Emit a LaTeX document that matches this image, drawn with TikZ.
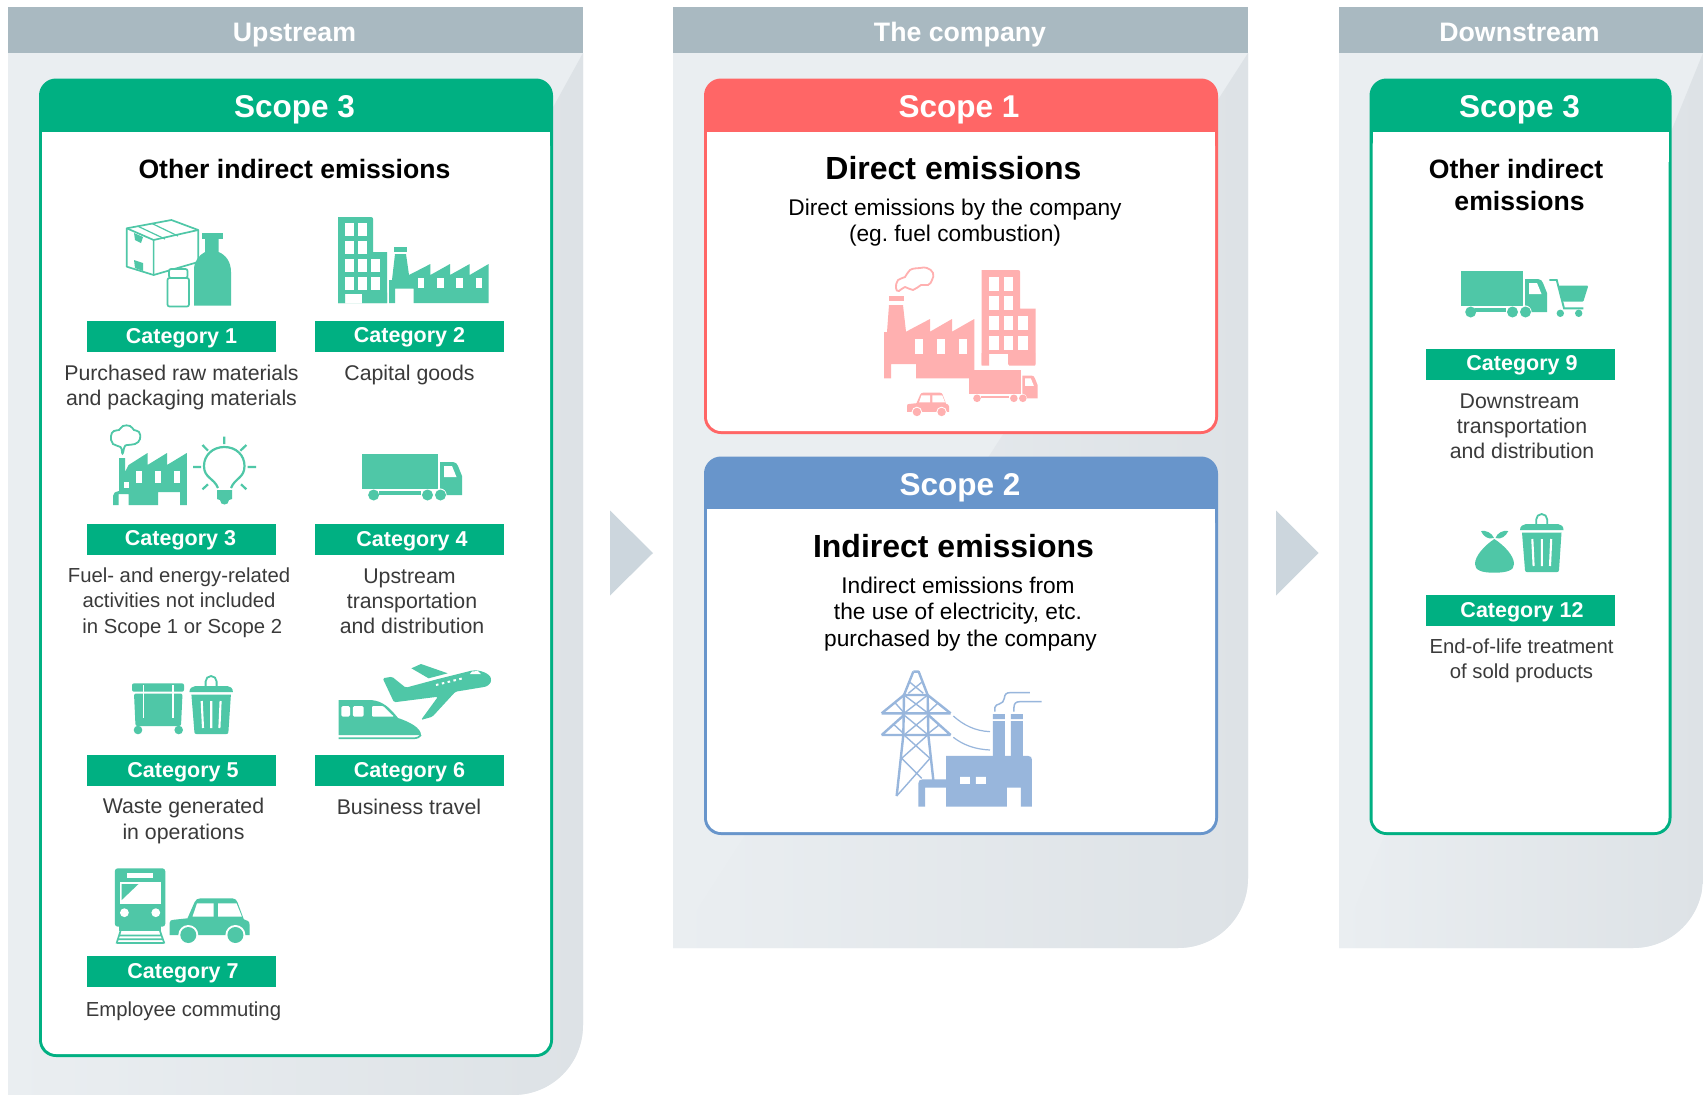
\documentclass[tikz,border=0pt]{standalone}
\usepackage{fontspec}
\setmainfont{Liberation Sans}
\frenchspacing
\definecolor{hdrgray}{HTML}{A9B9C1}
\definecolor{panellight}{HTML}{EAEEF1}
\definecolor{paneldark}{HTML}{DDE2E6}
\definecolor{chev}{HTML}{CCD6DD}
\definecolor{cgreen}{HTML}{00B082}
\definecolor{cred}{HTML}{FF6666}
\definecolor{cblue}{HTML}{6895CB}
\definecolor{igreen}{HTML}{4FC7A7}
\definecolor{ipink}{HTML}{FFB0B0}
\definecolor{iblue}{HTML}{98B6DC}
\definecolor{bodytext}{HTML}{3A3A3A}
\tikzset{
  hdrtext/.style={anchor=base,text=white,font=\fontsize{26.7}{30}\selectfont\bfseries,inner sep=0pt},
  scopetext/.style={anchor=base,text=white,font=\fontsize{31.5}{36}\selectfont\bfseries,inner sep=0pt},
  subtext/.style={anchor=base,text=black,font=\fontsize{26.6}{32}\selectfont\bfseries,inner sep=0pt},
  bigtext/.style={anchor=base,text=black,font=\fontsize{32}{36}\selectfont\bfseries,inner sep=0pt},
  leadtext/.style={text=black,font=\fontsize{22.7}{26.5}\selectfont,align=center,inner sep=0pt},
  cattext/.style={anchor=base,text=white,font=\fontsize{21.5}{25}\selectfont\bfseries,inner sep=0pt},
  desctext/.style={text=bodytext,font=\fontsize{21.3}{25.2}\selectfont,align=center,inner sep=0pt},
  desctight/.style={text=bodytext,font=\fontsize{20.3}{25.2}\selectfont,align=center,inner sep=0pt},
  descline/.style={anchor=base,text=bodytext,font=\fontsize{21.3}{25.2}\selectfont,inner sep=0pt},
  desclinetight/.style={anchor=base,text=bodytext,font=\fontsize{20.3}{25.2}\selectfont,inner sep=0pt}
}
\newcommand{\PanelBox}[4]{% x1 x2 ybot name
  \fill[panellight] (#1,53) -- (#2,53) -- (#2,{#3-70}) .. controls (#2,{#3-31}) and ({#2-31},#3) .. ({#2-70},#3) -- (#1,#3) -- cycle;
  \shade[left color=panellight,right color=paneldark] (#2,53) -- (#2,{#3-70}) .. controls (#2,{#3-31}) and ({#2-31},#3) .. ({#2-70},#3) -- (#1,#3) -- cycle;
  \fill[hdrgray] (#1,7) rectangle (#2,53);
}
\newcommand{\CardBox}[6]{% x1 y1 x2 y2 yh colour
  \fill[#6,rounded corners=17pt] (#1,#2) rectangle (#3,#4);
  \fill[white,rounded corners=14pt] ({#1+3},#5) rectangle ({#3-3},{#4-3});
  \fill[white] ({#1+3},#5) rectangle ({#3-3},{#5+30});
}
\newcommand{\CatBar}[5]{% name x1 y1 x2 y2
  \fill[cgreen] (#2,#3) rectangle (#4,#5);
}
\newcommand{\TruckIcon}[5]{% ox oy scale boxw colour
  \begin{scope}[shift={(#1,#2)},scale=#3]
    \fill[#5] (0,0) rectangle (#4,35);
    \fill[#5] ({#4+2},8) -- ({#4+15},8) .. controls ({#4+18},8) and ({#4+19},10) .. ({#4+20},12) -- ({#4+24},22) -- ({#4+24},41) -- ({#4+2},41) -- cycle;
    \fill[white] ({#4+6},12) -- ({#4+14},12) -- ({#4+18.5},23) -- ({#4+6},23) -- cycle;
    \fill[#5] ({0.23*#4},37) rectangle ({#4-17},41);
    \fill[white] ({#4+2},41) circle[radius=6.6];
    \fill[#5] ({0.14*#4+1},41) circle[radius=5.5];
    \fill[#5] ({#4-10.5},41) circle[radius=5.5];
    \fill[#5] ({#4+2.5},41) circle[radius=5.5];
  \end{scope}
}
\newcommand{\BuildingIcon}[4]{% ox oy scale colour
  \begin{scope}[shift={(#1,#2)},scale=#3]
    \fill[#4] (0,0) -- (33,0) .. controls (34.5,0) and (35,1) .. (35,2) -- (35,35) -- (49,35) -- (49,86) -- (0,86) -- cycle;
    \foreach \cx in {7,20}{\foreach \cy in {6,24,42,60}{\fill[white] (\cx,\cy) rectangle ++(8.7,12.7);}}
    \foreach \cy in {42,60}{\fill[white] (33.2,\cy) rectangle ++(8.7,12.7);}
    \fill[white] (7,76.5) rectangle (24,86);
  \end{scope}
}
\newcommand{\TrashIcon}[4]{% ox oy scale colour
  \begin{scope}[shift={(#1,#2)},scale=#3]
    \draw[#4,line width=1.8pt] (16.2,4) -- (16.2,-1.5) arc[start angle=180,end angle=360,radius=5.5] -- (27.2,4);
    \fill[#4] (0,9) .. controls (0,5) and (3,3.5) .. (6,3) -- (38,3) .. controls (41,3.5) and (43.5,5) .. (43.5,9) -- cycle;
    \fill[#4] (2,11.5) -- (41.5,11.5) -- (39,49) .. controls (39,50.5) and (38,51) .. (37,51) -- (7,51) .. controls (6,51) and (5,50.5) .. (5,49) -- cycle;
    \draw[white,line width=2.1pt] (12.3,18) -- (13.6,45) (21.8,18) -- (21.8,45) (31.2,18) -- (30,45);
  \end{scope}
}
\newcommand{\CarIcon}[4]{% ox oy scale colour
  \begin{scope}[shift={(#1,#2)},scale=#3]
    \fill[#4] (0,25) .. controls (0,22) and (2,21.5) .. (4,21.5) -- (18,20) -- (25,4) .. controls (26,1.5) and (28,0) .. (31,0) -- (63,0) .. controls (66,0) and (67,2) .. (68,4) -- (74.3,21) -- (78,22.5) .. controls (79.5,23) and (80,24) .. (80,26) -- (80,36.7) -- (0,36.7) -- cycle;
    \fill[white] (23,18.4) -- (27.5,5) -- (44,5) -- (44,18.4) -- cycle;
    \fill[white] (48.5,5) -- (67,5) -- (72.4,18.4) -- (48.5,18.4) -- cycle;
    \fill[white] (18.8,36.7) circle[radius=10];
    \fill[white] (65.9,36.7) circle[radius=10];
    \fill[#4] (18.8,36.7) circle[radius=8];
    \fill[#4] (65.9,36.7) circle[radius=8];
  \end{scope}
}
\begin{document}
\begin{tikzpicture}[x=1pt,y=-1pt]
\useasboundingbox (0,0) rectangle (1703,1095);
% panels
\PanelBox{8}{583}{1095}{up}
\PanelBox{673}{1248}{948}{co}
\PanelBox{1339}{1703}{948}{dn}
\node[hdrtext] (hup) at (294.5,41.7) {Upstream};
\node[hdrtext] (hco) at (960,41.7) {The company};
\node[hdrtext] (hdn) at (1519.5,41.7) {Downstream};
% chevrons
\fill[chev] (610,510.5) -- (653,553) -- (610,595.5) -- cycle;
\fill[chev] (1276,510.5) -- (1318.5,553) -- (1276,595.5) -- cycle;
% cards
\CardBox{39}{78.5}{553}{1057}{132}{cgreen}
\CardBox{704}{78.5}{1218}{434}{132}{cred}
\CardBox{704}{456.5}{1218}{835}{509}{cblue}
\CardBox{1369.5}{78.5}{1671.5}{835}{132}{cgreen}
\node[scopetext] (s3a) at (294.5,117.5) {Scope 3};
\node[scopetext] (s1) at (959,117.5) {Scope 1};
\node[scopetext] (s2) at (960,495.5) {Scope 2};
\node[scopetext] (s3b) at (1519.5,117.5) {Scope 3};
\node[subtext] (oia) at (294.5,178.3) {Other indirect emissions};
\node[subtext] (oib1) at (1516,178.3) {Other indirect};
\node[subtext] (oib2) at (1519.5,210.3) {emissions};
\node[bigtext] (de) at (953.5,179.5) {Direct emissions};
\node[leadtext] (del) at (955,222.5) {Direct emissions by the company\\(eg. fuel combustion)};
\node[bigtext] (ie) at (953.5,557.5) {Indirect emissions};
\node[leadtext] (iel) at (960.5,614) {\hspace*{-5pt}Indirect emissions from\\\hspace*{-5pt}the use of electricity, etc.\\purchased by the company};
% category bars
\CatBar{c1}{87}{321}{276}{352}
\CatBar{c2}{315}{321}{504}{352}
\CatBar{c3}{87}{524}{276}{555}
\CatBar{c4}{315}{524}{504}{555}
\CatBar{c5}{87}{755}{276}{786}
\CatBar{c6}{315}{755}{504}{786}
\CatBar{c7}{87}{956}{276}{987}
\CatBar{c9}{1426}{349}{1615}{380}
\CatBar{c12}{1426}{595}{1615}{626}
\node[cattext] (t1) at (181.5,343.7) {Category 1};
\node[cattext] (t2) at (409.5,342.5) {Category 2};
\node[cattext] (t3) at (180.5,545.5) {Category 3};
\node[cattext] (t4) at (412,546) {Category 4};
\node[cattext] (t5) at (183,777.7) {Category 5};
\node[cattext] (t6) at (409.5,777.7) {Category 6};
\node[cattext] (t7) at (183,978.7) {Category 7};
\node[cattext] (t9) at (1522,370) {Category 9};
\node[cattext] (t12) at (1522,617) {Category 12};
% descriptions
\node[desctext] (d1) at (181.5,387.5) {Purchased raw materials\\and packaging materials};
\node[descline] (d2) at (409.5,380) {Capital goods};
\node[desctight] (d3) at (179,602.7) {Fuel- and energy-related\\activities not included\\\hspace*{6.5pt}in Scope 1 or Scope 2};
\node[desctext] (d4) at (412,601.5) {\hspace*{-5pt}Upstream\\transportation\\and distribution};
\node[desctext] (d5) at (183.5,821) {Waste generated\\in operations};
\node[descline] (d6) at (409,814) {Business travel};
\node[desclinetight] (d7) at (183.5,1016.5) {Employee commuting};
\node[desctext] (d9) at (1522,426) {\hspace*{-5pt}Downstream\\transportation\\and distribution};
\node[desctight] (d12) at (1521.5,661) {End-of-life treatment\\of sold products};
% ---- Icon cat 1
\begin{scope}[igreen]
  \draw[line width=1.7pt,fill=white,line join=round] (126.8,228.3) -- (171.4,220) -- (198.2,230) -- (198.2,262) -- (153.6,275) -- (126.8,266.7) -- cycle;
  \draw[line width=1.7pt,line join=round] (126.8,228.3) -- (153.6,240) -- (198.2,230) (153.6,240) -- (153.6,275);
  \draw[line width=1.2pt] (138,226.3) -- (165,239) (152,223.5) -- (178,236);
  \fill (134,233) -- (143,237) -- (141,243) -- (135,240) -- cycle;
  \fill (134,260) -- (143,263) -- (143,271) -- (135,268) -- cycle;
  % big bottle
  \fill (202,233) rectangle (222.5,239);
  \fill (205,239) -- (218.6,239) -- (218.6,252) .. controls (226,255) and (231,262) .. (231,272) -- (231,305.5) -- (194,305.5) -- (194,268) .. controls (194,262) and (199,255) .. (205,252) -- cycle;
  % small bottle
  \draw[line width=1.7pt,fill=white,rounded corners=2pt] (167.5,278) rectangle (189,306.5);
  \draw[line width=1.7pt,fill=white,rounded corners=2pt] (169,269) rectangle (187.5,278);
\end{scope}
% ---- Icon cat 2
\BuildingIcon{338}{217}{1}{igreen}
\fill[igreen] (338,292.5) rectangle (345,303) (362,292.5) rectangle (387,303);
\fill[igreen] (394,247) rectangle (407,252);
\fill[igreen] (395,254) -- (406,254) -- (409,275) -- (430.4,264) -- (430.4,275) -- (450,264) -- (450,275) -- (469.7,264) -- (469.7,275) -- (488.6,264) -- (488.6,303) -- (413.6,303) -- (413.6,288.7) -- (395,288.7) -- (395,303) -- (389,303) -- (389,280) -- (392,280) -- cycle;
\foreach \wx in {418,437.2,456.4,475.7}{\fill[white] (\wx,278) rectangle ++(6.4,10);}
% ---- Icon cat 3
\draw[igreen,line width=1.8pt,fill=white] plot[smooth cycle,tension=.8] coordinates {(122.5,453.5) (120.5,447) (113,444) (111,436) (114,431) (119,430) (123,426) (130,426) (134,430) (139,432) (140,439) (135,444) (127,445) (124.5,447)};
\fill[igreen] (119,458) -- (125,458) -- (125,472) -- (128.6,465) -- (147.5,453) -- (147.5,465) -- (167,453) -- (167,465) -- (186.8,453) -- (186.8,505) -- (180,505) -- (180,492) -- (158,492) -- (158,505) -- (128.6,505) -- (128.6,494) -- (118.6,494) -- (118.6,505) -- (113,505) -- (113,496) .. controls (113,493) and (115,492) .. (119,491) -- cycle;
\foreach \wx in {135.7,154.6,174}{\fill[white] (\wx,471) rectangle ++(6.4,12);}
\fill[white] (124,482) rectangle (128.5,488);
\draw[igreen,line width=2.2pt] (218,488) .. controls (214,478) and (204,478) .. (204,466) .. controls (204,455) and (213,447) .. (224.3,447) .. controls (236,447) and (244.5,455) .. (244.5,466) .. controls (244.5,478) and (235,478) .. (231,488);
\fill[igreen] (217,490) -- (232,490) -- (232,499) -- (229,500) .. controls (229,506) and (220,506) .. (220,500) -- (217,499) -- cycle;
\draw[igreen,line width=2.2pt] (224.3,436.7) -- (224.3,444) (193,467) -- (201,467) (247.5,467) -- (256,467) (202.5,445) -- (208,450.7) (246.4,445) -- (240.4,450.7) (202.5,489.3) -- (208,484.3) (246.4,489.3) -- (241,484.3);
% ---- Icon cat 4
\TruckIcon{362}{454}{1}{76}{igreen}
% ---- Icon cat 5
\fill[igreen,rounded corners=2pt] (132,683.3) rectangle (184,691.7);
\fill[igreen,rounded corners=2pt] (134,693.5) -- (182.5,693.5) -- (181,726) -- (135.5,726) -- cycle;
\draw[white,line width=1.4pt] (143.5,685) -- (143.5,718) (173,685) -- (173,718);
\fill[igreen] (138,730) circle[radius=4.3] (178.7,730) circle[radius=4.3];
\TrashIcon{189.4}{683}{1}{igreen}
% ---- Icon cat 6
\fill[igreen] (338.7,700) -- (371,700) .. controls (383,701) and (390,708) .. (398,718) .. controls (410,722) and (421,728) .. (421,735) -- (338.7,735) -- cycle;
\draw[igreen,line width=1.7pt] (338.7,738.3) -- (413,738.3) .. controls (417,738.3) and (420,737) .. (421,735);
\fill[white,rounded corners=1.5pt] (341.4,706) rectangle (350,716.7) (352.8,706) rectangle (363.6,716.7);
\fill[white,rounded corners=1pt] (372,706) -- (383,706) -- (394,716.7) -- (372,716.7) -- cycle;
\fill[igreen,rounded corners=1.5pt] (382.7,678.3) -- (392,676.7) -- (405.7,687.7) -- (438,679) -- (470,671) .. controls (480,669) and (490,674) .. (491,679.3) .. controls (491,683) and (488,686) .. (484,687) -- (455.4,691.7) -- (432.4,716.7) -- (421,720) -- (438,696.7) -- (394,702.3) -- cycle;
\fill[igreen] (411.4,668.3) -- (421,664) -- (447.7,673.3) -- (428.6,678.3) -- cycle;
\draw[white,line width=2pt,dash pattern=on 2.5pt off 3.5pt] (436,685) -- (464,678);
\fill[white] (470,674) -- (481,674) -- (478,671) -- (472,671.5) -- cycle;
% ---- Icon cat 7
\fill[igreen,rounded corners=3pt] (114.8,868.3) rectangle (165.3,926.7);
\fill[igreen] (119.4,926) rectangle (160.7,931);
\fill[white] (127,872.7) rectangle (153,878);
\fill[white] (119.8,882.3) rectangle (160.7,904.3);
\fill[igreen] (121.7,884) -- (138.5,884) -- (121.7,900) -- cycle;
\fill[white] (124.4,912.7) circle[radius=4.4] (155.8,912.7) circle[radius=4.4];
\draw[igreen,line width=1.7pt] (120.5,931) -- (116.5,943.5) (160,931) -- (164.4,943.5) (119,935.5) -- (161.5,935.5) (118,939.3) -- (162.5,939.3) (117,943) -- (163.5,943);
\CarIcon{169.5}{898.3}{1}{igreen}
% ---- Icon cat 9
\TruckIcon{1461}{271}{1}{62}{igreen}
\draw[igreen,line width=1.9pt] (1549.3,280) -- (1556.7,280) -- (1564,308.3) -- (1583.3,308.3);
\fill[igreen,rounded corners=1pt] (1558.3,285.7) -- (1588.3,285.7) -- (1583.3,301.7) -- (1562.5,301.7) -- cycle;
\fill[igreen] (1560.3,313.3) circle[radius=3.7] (1578.7,313.3) circle[radius=3.7];
% ---- Icon cat 12
\fill[igreen] (1494.3,539) .. controls (1484,546) and (1475,556) .. (1475,564) .. controls (1475,570) and (1481,572.7) .. (1494,572.7) .. controls (1508,572.7) and (1514,570) .. (1514,564) .. controls (1514,556) and (1505,546) .. (1494.3,539) -- cycle;
\fill[igreen] (1481,531) .. controls (1486,530) and (1492,533) .. (1494,538) .. controls (1488,540) and (1483,536) .. (1481,531) -- cycle;
\fill[igreen] (1508.3,531) .. controls (1503,530) and (1497,533) .. (1495.5,538) .. controls (1501,540) and (1506,536) .. (1508.3,531) -- cycle;
\TrashIcon{1520}{521}{1}{igreen}
% ---- Pink icon
\fill[ipink] (889,296) rectangle (904,301);
\fill[ipink] (889,305) -- (903,305) -- (906,331.7) -- (930,319) -- (930,331.7) -- (952,319) -- (952,331.7) -- (974.3,319) -- (974.3,372) -- (969,372) -- (969,378.3) -- (916,378.3) -- (916,364) -- (891,364) -- (891,378.3) -- (884,378.3) -- (884,332) -- (887,332) -- cycle;
\foreach \wx in {915,937,959}{\fill[white] (\wx,339) rectangle ++(8,14.7);}
\draw[ipink,line width=1.8pt,fill=white] plot[smooth cycle,tension=.8] coordinates {(896,288) (898,280) (905,277) (910,270) (920,268) (927,268) (933,273) (932,280) (928,285) (921,285) (913,290) (905,287) (899,291)};
\BuildingIcon{981.7}{270}{1.1}{ipink}
\fill[ipink] (981.7,353) rectangle (989,365.7) (1009,353) rectangle (1035,365.7);
\TruckIcon{969}{370}{0.69}{75.5}{ipink}
\CarIcon{907}{392.7}{0.525}{ipink}
% ---- Blue icon
\begin{scope}[shift={(860,650)},x=0.3333pt,y=-0.3333pt]
  \draw[iblue,line width=2.4pt,line join=round] (160,65) -- (176,65) -- (203,135) -- (205,255) -- (220,390);
  \draw[iblue,line width=2.4pt,line join=round] (160,65) -- (132,135) -- (130,255) -- (110,438);
  \draw[iblue,line width=2.4pt] (65,190) -- (272,190) (65,190) -- (132,135) -- (203,135) -- (272,190) (65,255) -- (272,255) (65,255) -- (132,195) (272,255) -- (205,195);
  \draw[iblue,line width=1.4pt] (150,97) -- (190,130) (185,97) -- (145,130) (132,135) -- (205,190) (203,135) -- (132,190) (132,195) -- (205,255) (205,195) -- (132,255) (132,255) -- (210,325) (203,255) -- (125,325) (125,325) -- (185,385) (210,325) -- (110,438) (105,158) -- (130,186) (235,158) -- (205,186) (100,222) -- (130,250) (237,225) -- (205,250);
  \draw[iblue,line width=1.2pt] (280,198) .. controls (310,225) and (345,243) .. (390,245) (280,262) .. controls (310,285) and (345,298) .. (390,300);
  \fill[iblue] (399,192) rectangle (435,207) (453,192) rectangle (489,207) (399,213) rectangle (435,320) (453,213) rectangle (489,320);
  \fill[iblue] (258,318) -- (505,318) .. controls (512,318) and (516,322) .. (516,330) -- (516,470) -- (483,470) -- (483,413) -- (441,413) -- (441,470) -- (258,470) -- (258,413) -- (195,413) -- (195,470) -- (175,470) -- (175,400) .. controls (175,392) and (180,388) .. (188,388) -- (258,388) -- cycle;
  \fill[white] (300,381) rectangle (330,402) (348,381) rectangle (378,402);
  \draw[iblue,line width=1.5pt] (405,185) -- (405,172) .. controls (405,160) and (432,165) .. (433,145) .. controls (434,132) and (440,128) .. (450,128) -- (510,128);
  \draw[iblue,line width=1.5pt] (462,185) -- (462,172) .. controls (462,160) and (468,155) .. (480,155) -- (545,155);
\end{scope}
\end{tikzpicture}
\end{document}
